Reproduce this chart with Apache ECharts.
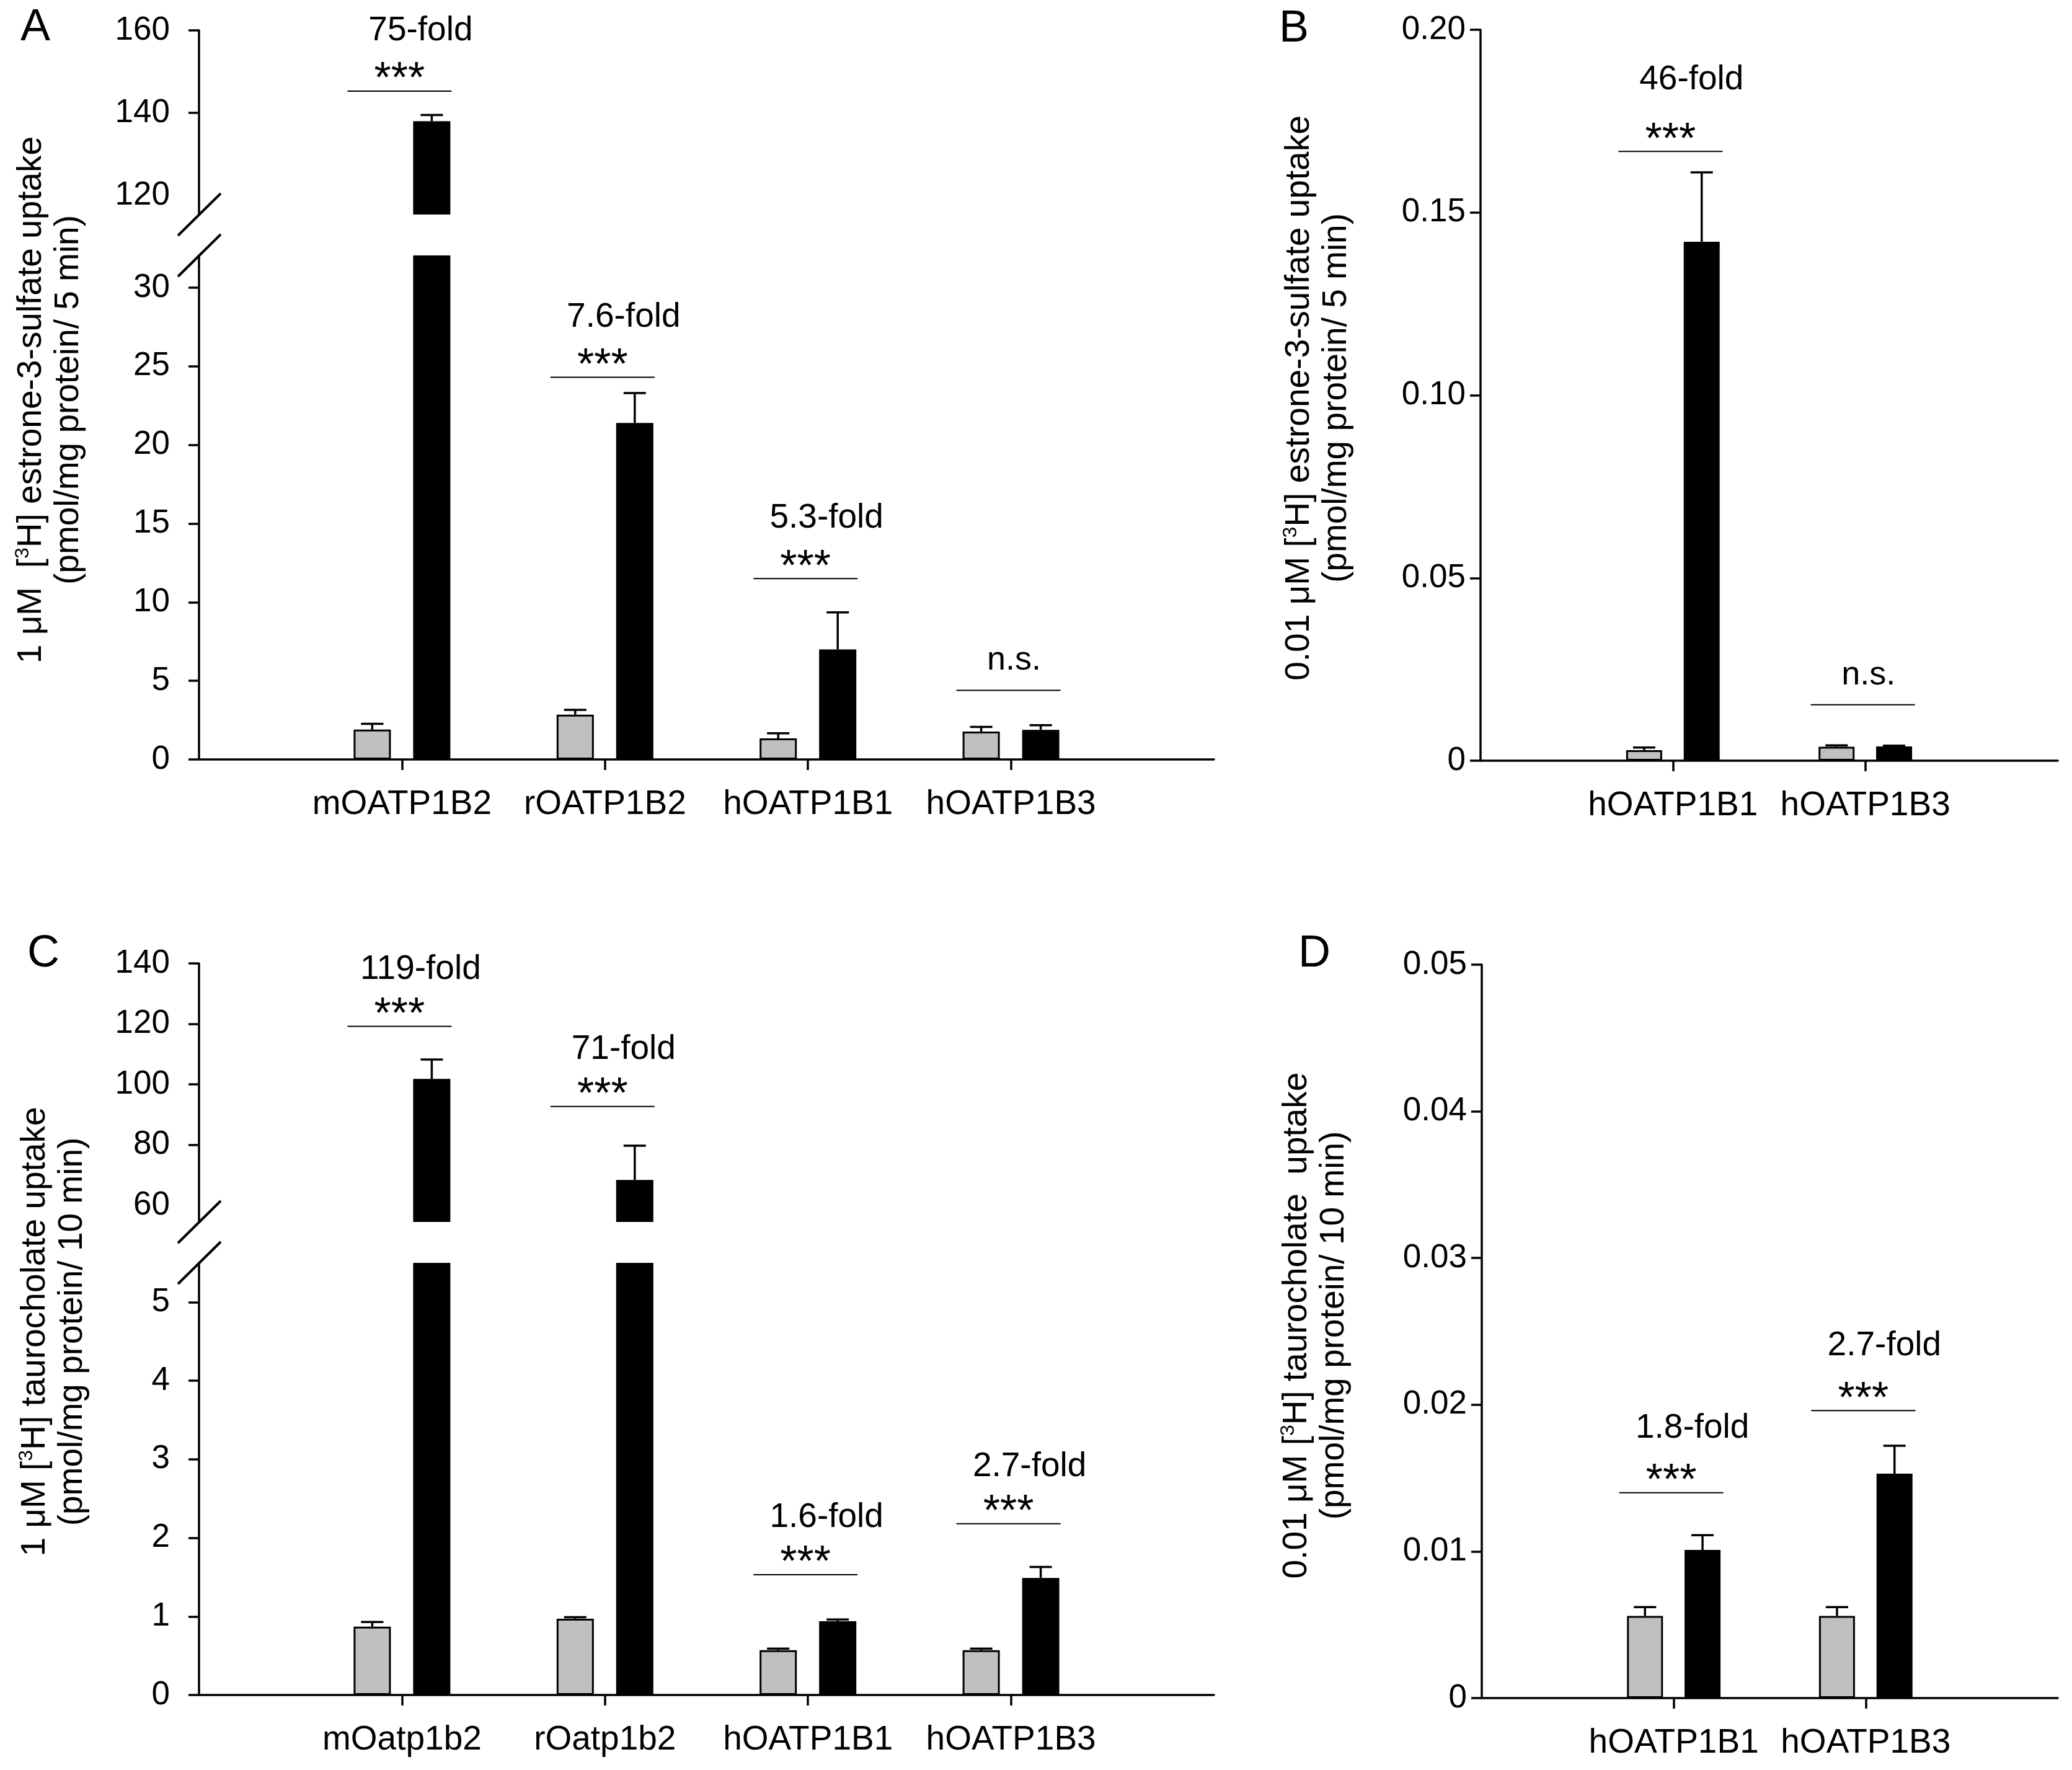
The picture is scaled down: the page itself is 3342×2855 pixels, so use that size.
<!DOCTYPE html>
<html><head><meta charset="utf-8">
<script src="https://cdn.jsdelivr.net/npm/echarts@6/dist/echarts.min.js"></script>
<style>html,body{margin:0;padding:0;background:#fff}#c{width:3342px;height:2855px}</style>
</head><body><div id="c"></div>
<script>
// ---------------- DATA ----------------
// Panel A: 1 uM estrone-3-sulfate
const catsA = ['mOATP1B2', 'rOATP1B2', 'hOATP1B1', 'hOATP1B3'];
const ctrlA = [1.9, 2.85, 1.34, 1.77];
const ctrlErrA = [0.37, 0.3, 0.33, 0.3];
const transA = [138.0, 21.4, 7.0, 1.88];
const transErrA = [1.5, 1.9, 2.35, 0.3];
const annLevelA = [145.3, 24.3, 11.5, 4.4];
const annFoldA = ['75-fold', '7.6-fold', '5.3-fold', ''];
const annSigA = ['***', '***', '***', 'n.s.'];
const ticksA_hi = [120, 140, 160];
const tickMarksA_hi = [140, 160];
const ticksA_lo = [0, 5, 10, 15, 20, 25, 30];
const titleA = ['1 μM  [{s|3}H] estrone-3-sulfate uptake', '(pmol/mg protein/ 5 min)'];

// Panel B: 0.01 uM estrone-3-sulfate
const catsB = ['hOATP1B1', 'hOATP1B3'];
const ctrlB = [0.0029, 0.0038];
const ctrlErrB = [0.0007, 0.0004];
const transB = [0.142, 0.0039];
const transErrB = [0.019, 0.0002];
const annLevelB = [0.1667, 0.0153];
const annFoldB = ['46-fold', ''];
const annSigB = ['***', 'n.s.'];
const ticksB = [0, 0.05, 0.10, 0.15, 0.20];
const titleB = ['0.01 μM [{s|3}H] estrone-3-sulfate uptake', '(pmol/mg protein/ 5 min)'];

// Panel C: 1 uM taurocholate
const catsC = ['mOatp1b2', 'rOatp1b2', 'hOATP1B1', 'hOATP1B3'];
const ctrlC = [0.87, 0.97, 0.57, 0.57];
const ctrlErrC = [0.06, 0.02, 0.02, 0.02];
const transC = [101.8, 68.4, 0.94, 1.49];
const transErrC = [6.4, 11.3, 0.02, 0.14];
const annLevelC = [119.2, 92.7, 1.53, 2.18];
const annFoldC = ['119-fold', '71-fold', '1.6-fold', '2.7-fold'];
const annSigC = ['***', '***', '***', '***'];
const ticksC_hi = [60, 80, 100, 120, 140];
const tickMarksC_hi = [80, 100, 120, 140];
const ticksC_lo = [0, 1, 2, 3, 4, 5];
const titleC = ['1 μM [{s|3}H] taurocholate uptake', '(pmol/mg protein/ 10 min)'];

// Panel D: 0.01 uM taurocholate
const catsD = ['hOATP1B1', 'hOATP1B3'];
const ctrlD = [0.0056, 0.0056];
const ctrlErrD = [0.0006, 0.0006];
const transD = [0.0101, 0.0153];
const transErrD = [0.0010, 0.0019];
const annLevelD = [0.0140, 0.0196];
const annFoldD = ['1.8-fold', '2.7-fold'];
const annSigD = ['***', '***'];
const ticksD = [0, 0.01, 0.02, 0.03, 0.04, 0.05];
const titleD = ['0.01 μM [{s|3}H] taurocholate  uptake', '(pmol/mg protein/ 10 min)'];

const panelLetters = ['A', 'B', 'C', 'D'];

// ---------------- BUILD ----------------
const FONT = '"Liberation Sans", Arial, Helvetica, sans-serif';
const LW = 3.5;
const option = {
  animation: false, backgroundColor: '#ffffff',
  grid: [], xAxis: [], yAxis: [], series: [], graphic: []
};

function txt(x, y, s, size) {
  return { type: 'text', x: x, y: y,
    style: { text: s, fill: '#000', font: size + 'px ' + FONT, align: 'center', verticalAlign: 'middle' } };
}

function errRender(off) {
  return function (params, api) {
    const a = api.coord([api.value(0), api.value(1)]);
    const b = api.coord([api.value(0), api.value(2)]);
    const x = a[0] + off;
    const st = { stroke: '#000', lineWidth: LW };
    return { type: 'group', children: [
      { type: 'line', shape: { x1: x, y1: a[1], x2: x, y2: b[1] }, style: st },
      { type: 'line', shape: { x1: x - 18, y1: b[1], x2: x + 18, y2: b[1] }, style: st }
    ] };
  };
}

function annRender(p) {
  return function (params, api) {
    const i = api.value(2);
    const c = api.coord([api.value(0), api.value(1)]);
    const x = c[0], y = c[1];
    const kids = [{ type: 'line', shape: { x1: x - 88, y1: y, x2: x + 80, y2: y }, style: { stroke: '#000', lineWidth: 2 } }];
    const sig = p.annSig[i];
    if (sig === 'n.s.') kids.push(txt(x + 5, y - 48, sig, 54));
    else kids.push(txt(x - 4, y - 17, sig, 70));
    if (p.annFold[i]) kids.push(txt(x + 30, y + p.foldDy, p.annFold[i], 55));
    return { type: 'group', children: kids };
  };
}

function addPanel(p) {
  const axisCats = [' '].concat(p.cats, ['  ']);
  const offset = p.barWidth * (1 + p.gapRatio) / 2;
  const pad = v => [null].concat(v, [null]);
  p.segs.forEach((s, si) => {
    const gi = option.grid.length;
    const isBottom = si === p.segs.length - 1;
    option.grid.push({ left: p.left, top: s.top, width: p.right - p.left, height: s.bottom - s.top,
      containLabel: false, outerBoundsMode: 'none' });
    option.xAxis.push({ type: 'category', gridIndex: gi, data: axisCats, boundaryGap: false, show: isBottom,
      axisLine: { show: true, onZero: false, lineStyle: { color: '#000', width: LW } },
      axisTick: { show: true, length: 17, interval: (i) => i > 0 && i < axisCats.length - 1, lineStyle: { color: '#000', width: LW } },
      axisLabel: { interval: 0, margin: 45, color: '#000', fontSize: 55, fontFamily: FONT },
      splitLine: { show: false } });
    option.yAxis.push({ type: 'value', gridIndex: gi, min: s.min, max: s.max,
      axisLine: { show: true, lineStyle: { color: '#000', width: LW } },
      axisTick: { show: true, length: 17, customValues: s.ticks, lineStyle: { color: '#000', width: LW } },
      axisLabel: { customValues: s.labels, formatter: p.fmt, margin: p.yLabelMargin, color: '#000', fontSize: 53, fontFamily: FONT },
      splitLine: { show: false } });
    option.series.push({ type: 'bar', xAxisIndex: gi, yAxisIndex: gi, data: pad(p.ctrl), barWidth: p.barWidth,
      barGap: (p.gapRatio * 100) + '%', clip: true, silent: true,
      itemStyle: { color: '#c0c0c0', borderColor: '#000', borderWidth: 3 } });
    option.series.push({ type: 'bar', xAxisIndex: gi, yAxisIndex: gi, data: pad(p.trans), barWidth: p.barWidth,
      barGap: (p.gapRatio * 100) + '%', clip: true, silent: true,
      itemStyle: { color: '#000' } });
    [[p.ctrl, p.ctrlErr, -offset], [p.trans, p.transErr, offset]].forEach(function (g) {
      const d = [];
      g[0].forEach((v, i) => { const t = v + g[1][i]; if (t >= s.min && t <= s.max) d.push([i + 1, Math.max(v, s.min), t]); });
      option.series.push({ type: 'custom', xAxisIndex: gi, yAxisIndex: gi, data: d, clip: false, silent: true, renderItem: errRender(g[2]) });
    });
    const ad = [];
    p.annLevel.forEach((lv, i) => { if (lv >= s.min && lv <= s.max) ad.push([i + 1, lv, i]); });
    option.series.push({ type: 'custom', xAxisIndex: gi, yAxisIndex: gi, data: ad, clip: false, silent: true, renderItem: annRender(p) });
  });
  // axis break marks
  if (p.segs.length > 1) {
    [p.segs[0].bottom, p.segs[1].top].forEach(function (yb) {
      option.graphic.push({ type: 'line', silent: true,
        shape: { x1: p.left - 34, y1: yb + 34, x2: p.left + 35, y2: yb - 34 },
        style: { stroke: '#000', lineWidth: 4 } });
    });
  }
  // axis title
  option.graphic.push({ type: 'text', x: p.titleX, y: p.titleY, rotation: Math.PI / 2, silent: true,
    style: { text: p.title[0] + '\n' + p.title[1], fill: '#000', font: '55px ' + FONT, lineHeight: 60,
      align: 'center', verticalAlign: 'middle',
      rich: { s: { fontSize: 32, fontFamily: FONT, fill: '#000', verticalAlign: 'top', lineHeight: 40 } } } });
  // panel letter
  option.graphic.push({ type: 'text', x: p.letterX, y: p.letterY, silent: true,
    style: { text: p.letter, fill: '#000', font: '72px ' + FONT, align: 'center', verticalAlign: 'middle' } });
}

const fmtInt = v => String(v);
const fmt2 = v => (v === 0 ? '0' : v.toFixed(2));

addPanel({ cats: catsA, ctrl: ctrlA, ctrlErr: ctrlErrA, trans: transA, transErr: transErrA,
  annLevel: annLevelA, annFold: annFoldA, annSig: annSigA, title: titleA, letter: panelLetters[0],
  left: 321, right: 1958, barWidth: 60, gapRatio: 0.6, fmt: fmtInt, yLabelMargin: 47, foldDy: -97,
  titleX: 81, titleY: 645, letterX: 57, letterY: 45,
  segs: [ { top: 49, bottom: 346, min: 115.4, max: 160, labels: ticksA_hi, ticks: tickMarksA_hi },
          { top: 412, bottom: 1225, min: 0, max: 32.05, labels: ticksA_lo, ticks: ticksA_lo } ] });

addPanel({ cats: catsB, ctrl: ctrlB, ctrlErr: ctrlErrB, trans: transB, transErr: transErrB,
  annLevel: annLevelB, annFold: annFoldB, annSig: annSigB, title: titleB, letter: panelLetters[1],
  left: 2388, right: 3319, barWidth: 58, gapRatio: 0.6, fmt: fmt2, yLabelMargin: 24, foldDy: -115,
  titleX: 2126, titleY: 642, letterX: 2087, letterY: 47,
  segs: [ { top: 48, bottom: 1227, min: 0, max: 0.2, labels: ticksB, ticks: ticksB } ] });

addPanel({ cats: catsC, ctrl: ctrlC, ctrlErr: ctrlErrC, trans: transC, transErr: transErrC,
  annLevel: annLevelC, annFold: annFoldC, annSig: annSigC, title: titleC, letter: panelLetters[2],
  left: 321, right: 1958, barWidth: 60, gapRatio: 0.6, fmt: fmtInt, yLabelMargin: 47, foldDy: -92,
  titleX: 87, titleY: 2148, letterX: 70, letterY: 1539,
  segs: [ { top: 1554, bottom: 1971, min: 54.5, max: 140, labels: ticksC_hi, ticks: tickMarksC_hi },
          { top: 2037, bottom: 2734, min: 0, max: 5.5, labels: ticksC_lo, ticks: ticksC_lo } ] });

addPanel({ cats: catsD, ctrl: ctrlD, ctrlErr: ctrlErrD, trans: transD, transErr: transErrD,
  annLevel: annLevelD, annFold: annFoldD, annSig: annSigD, title: titleD, letter: panelLetters[3],
  left: 2390, right: 3319, barWidth: 58, gapRatio: 0.6, fmt: fmt2, yLabelMargin: 24, foldDy: -104,
  titleX: 2122, titleY: 2138, letterX: 2120, letterY: 1539,
  segs: [ { top: 1556, bottom: 2739, min: 0, max: 0.05, labels: ticksD, ticks: ticksD } ] });

const chart = echarts.init(document.getElementById('c'), null, { renderer: 'canvas' });
chart.setOption(option);
</script>
</body></html>
